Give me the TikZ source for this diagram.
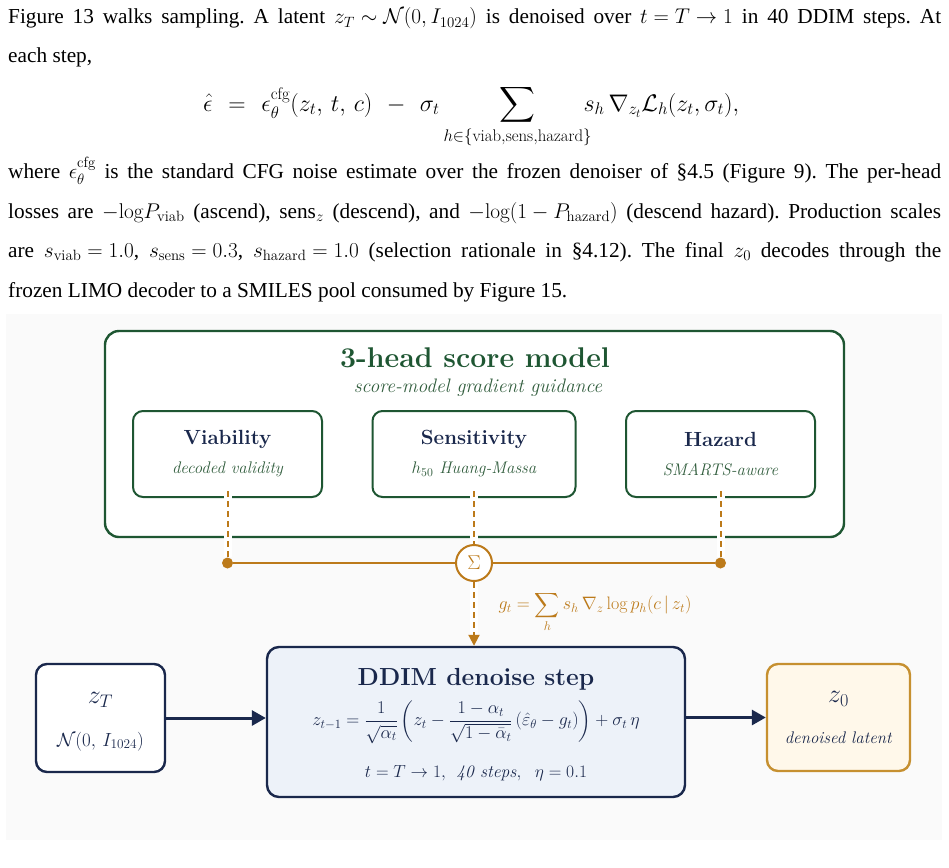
\RequirePackage{fix-cm}
\documentclass[tikz,border=0pt]{standalone}
\usepackage{amsmath}
\usepackage{fontspec}
\newfontfamily\bodyfont{Liberation Serif}
\usepackage{tikz}
\usetikzlibrary{arrows.meta, positioning, calc}
\definecolor{scoregreen}{RGB}{30,86,50}
\definecolor{notegreen}{RGB}{50,94,62}
\definecolor{headnavy}{RGB}{26,40,76}
\definecolor{guideorange}{RGB}{188,122,26}
\definecolor{ddimfill}{RGB}{237,242,249}
\definecolor{latentfill}{RGB}{255,248,234}
\definecolor{latentedge}{RGB}{198,144,48}
\definecolor{panelgray}{RGB}{250,250,250}

\newcommand{\fsz}[2]{\fontsize{#1}{#2}\selectfont}
\newcommand{\fixmath}{\thinmuskip=3mu\medmuskip=4mu\thickmuskip=5mu\relax}
\newcommand{\headname}[1]{{\fsz{20.5}{24}\bfseries\color{headnavy}#1}}
\newcommand{\headnote}[1]{{\fsz{16.8}{20}\itshape\color{notegreen}#1}}

\begin{document}
\begin{tikzpicture}[x=1pt, y=-1pt,
  para/.style={anchor=base west, inner sep=0pt, font=\bodyfont\fsz{21.3}{24}\fixmath\frenchspacing},
  panel/.style={draw=scoregreen, line width=2.4pt, rounded corners=14pt, fill=white},
  headbox/.style={draw=scoregreen, line width=2pt, rounded corners=10pt, fill=white,
                  minimum height=86pt, align=center, font=\fsz{16.8}{29}},
  latent/.style={draw=headnavy, line width=2.4pt, rounded corners=11pt, fill=white,
                 minimum width=129pt, minimum height=108pt, align=center,
                 text=headnavy, font=\fsz{19}{43}},
  ddimbox/.style={draw=headnavy, line width=2.4pt, rounded corners=12pt, fill=ddimfill,
                  minimum width=418pt, minimum height=150pt, align=center,
                  text=headnavy, font=\fsz{18}{38}},
  dot/.style={circle, fill=guideorange, inner sep=0pt, minimum size=11pt},
  sumnode/.style={circle, draw=guideorange, line width=2pt, fill=white,
                  text=guideorange, minimum size=36pt, inner sep=0pt, font=\fsz{20}{24}},
  feed/.style={guideorange, line width=2pt, dash pattern=on 6pt off 4pt,
               preaction={draw=white, line width=8pt, solid}},
  bus/.style={guideorange, line width=2pt},
  flow/.style={headnavy, line width=3pt, -{Triangle[length=14pt, width=15pt]}},
]
\useasboundingbox (0,0) rectangle (949,867);

% text above the figure
\node[para] (line1) at (8,24) {\makebox[933pt][s]{Figure 13 walks sampling. A latent $z_T \sim \mathcal{N}(0, I_{1024})$ is denoised over $t = T \rightarrow 1$ in 40 DDIM steps. At}};
\node[para] (line2) at (8,63) {each step,};
\node[para, font=\fsz{24}{28}\fixmath] (eqn) at (203,111) {$\displaystyle \hat{\epsilon} \hspace{9pt}=\hspace{9pt} \epsilon_\theta^{\mathrm{cfg}}(z_t,\, t,\, c) \hspace{9pt}-\hspace{9pt} \sigma_t \hspace{56pt} \sum_{\makebox[0pt]{$\scriptstyle h\in\{\mathrm{viab},\mathrm{sens},\mathrm{hazard}\}$}} \hspace{44pt} s_h\,\nabla_{z_t}\mathcal{L}_h(z_t,\sigma_t),$};
\node[para] (line3) at (8,178) {\makebox[933pt][s]{where $\epsilon_\theta^{\mathrm{cfg}}$ is the standard CFG noise estimate over the frozen denoiser of §4.5 (Figure 9). The per-head}};
\node[para] (line4) at (8,218) {\makebox[933pt][s]{losses are $-\mathrm{log}P_{\mathrm{viab}}$ (ascend), sens$_z$ (descend), and $-\mathrm{log}(1-P_{\mathrm{hazard}})$ (descend hazard). Production scales}};
\node[para] (line5) at (8,257) {\makebox[933pt][s]{are $s_{\mathrm{viab}} = 1.0$, $s_{\mathrm{sens}} = 0.3$, $s_{\mathrm{hazard}} = 1.0$ (selection rationale in §4.12). The final $z_0$ decodes through the}};
\node[para] (line6) at (8,297) {frozen LIMO decoder to a SMILES pool consumed by Figure 15.};

% figure panel
\fill[panelgray] (6,314) rectangle (942,840);

% score model with its three heads
\node[panel, minimum width=739pt, minimum height=206pt] (score) at (474.5,434) {};
\node[font=\fsz{28.5}{32}\bfseries, text=scoregreen] (title) at (475,358) {3-head score model};
\node[font=\fsz{19.5}{22}\itshape, text=notegreen] (subtitle) at (478,388) {score-model gradient guidance};

\node[headbox, minimum width=189pt] (viab) at (227.5,454) {\headname{Viability}\\\headnote{decoded validity}};
\node[headbox, minimum width=203pt] (sens) at (474,454) {\headname{Sensitivity}\\\headnote{$h_{50}$ Huang-Massa}};
\node[headbox, minimum width=189pt] (hazard) at (720.5,454) {\headname{Hazard}\\\headnote{SMARTS-aware}};

% guidance sum
\node[sumnode] (sum) at (474,563) {$\Sigma$};
\node[dot] (dviab) at (viab.south |- sum) {};
\node[dot] (dhaz) at (hazard.south |- sum) {};

\draw[feed] ([yshift=7pt]viab.south) -- (dviab);
\draw[feed] ([yshift=7pt]sens.south) -- (sum);
\draw[feed] ([yshift=7pt]hazard.south) -- (dhaz);
\draw[bus] (dviab) -- (sum) -- (dhaz);

\node[anchor=west, text=guideorange, font=\fsz{18}{20}] (gt) at (495,612)
  {$\displaystyle g_t = \sum_h s_h\,\nabla_z \log p_h(c\,|\,z_t)$};

% sampling chain
\node[ddimbox] (ddim) at (476,722)
  {\rule{0pt}{23pt}{\fsz{24.7}{28}\bfseries DDIM denoise step}\\[2pt]
   $\displaystyle z_{t-1} = \frac{1}{\sqrt{\alpha_t}}\left(z_t - \frac{1-\alpha_t}{\sqrt{1-\bar{\alpha}_t}}\,(\hat{\varepsilon}_\theta - g_t)\right) + \sigma_t\,\eta$\\[14pt]
   {\fsz{17.5}{20}$t = T \rightarrow 1,\ $ \textit{40 steps}$,\ \ \eta = 0.1$}};
\node[latent] (zT) at (100.5,718)
  {\rule{0pt}{18pt}{\fsz{26}{30}$z_T$}\\$\mathcal{N}(0,\, I_{1024})$};
\node[latent, draw=latentedge, fill=latentfill, minimum width=143pt, minimum height=107pt,
      font=\fsz{16.8}{41}] (zzero) at (838.5,717.5)
  {{\fsz{26}{30}$z_0$}\\\textit{denoised latent}};

\draw[feed, -{Triangle[length=11pt, width=11pt]}] (sum) -- (sum |- ddim.north);
\draw[flow] (zT) -- (zT -| ddim.west);
\draw[flow] (ddim.east |- zzero) -- (zzero);

\end{tikzpicture}
\end{document}
